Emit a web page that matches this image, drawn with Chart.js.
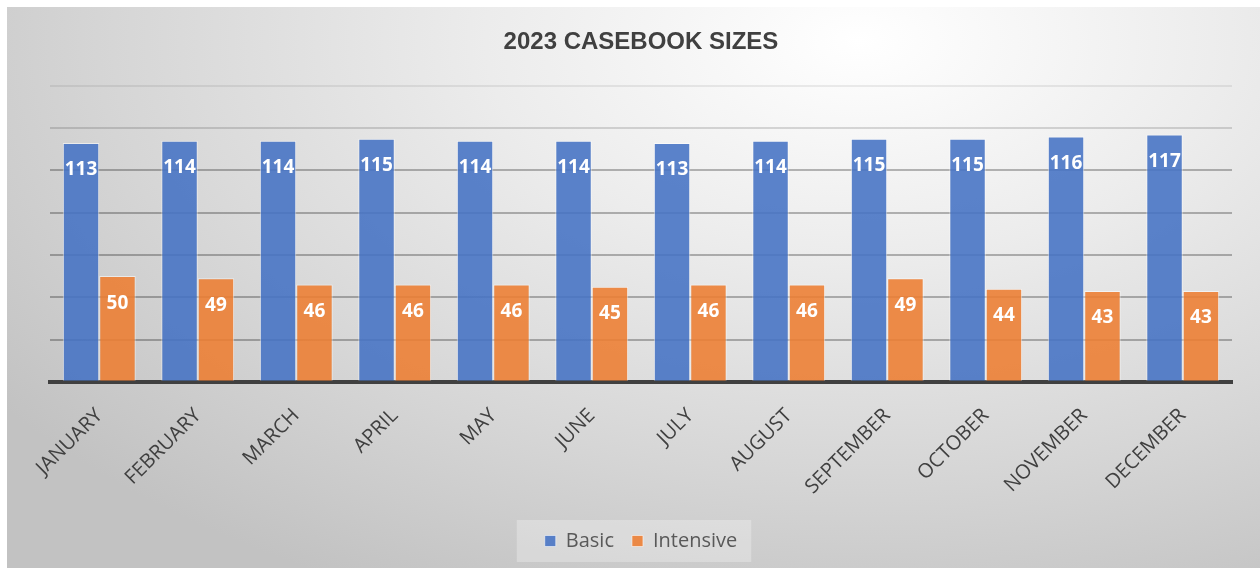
<!DOCTYPE html>
<html>
<head>
<meta charset="utf-8">
<script src="https://cdn.jsdelivr.net/npm/chart.js@4.4.0/dist/chart.umd.min.js"></script>
<style>
    html, body { margin: 0; padding: 0; background: #ffffff; }
    #frame {
        position: absolute;
        left: 7px; top: 7px;
        width: 1253px; height: 561px;
        background: radial-gradient(ellipse 85% 110% at 68% 6%, #ffffff 0%, #ececec 35%, #d6d6d6 70%, #c2c2c2 100%);
    }
    #chart { display: block; }
</style>
</head>
<body>
<div id="frame"><canvas id="chart" width="1253" height="561"></canvas></div>
<script>
// ===================================
// 2023 Casebook sizes
// ===================================

const months = ['JANUARY', 'FEBRUARY', 'MARCH', 'APRIL', 'MAY', 'JUNE', 'JULY', 'AUGUST', 'SEPTEMBER', 'OCTOBER', 'NOVEMBER', 'DECEMBER'];
const basic = [113, 114, 114, 115, 114, 114, 113, 114, 115, 115, 116, 117];
const intensive = [50, 49, 46, 46, 46, 45, 46, 46, 49, 44, 43, 43];
const seriesNames = ['Basic', 'Intensive'];
const yMax = 140;
const yStep = 20;

// Value labels inside the top of each bar
const barLabels = {
    id: 'barLabels',
    afterDatasetsDraw(chart) {
        const ctx = chart.ctx;
        ctx.save();
        ctx.fillStyle = '#ffffff';
        ctx.font = 'bold 19px "Open Sans"';
        ctx.textAlign = 'center';
        ctx.textBaseline = 'middle';
        chart.data.datasets.forEach((ds, i) => {
            chart.getDatasetMeta(i).data.forEach((bar, j) => {
                ctx.fillText(ds.data[j], bar.x, bar.y + 27);
            });
        });
        ctx.restore();
    }
};

// Light box behind the legend items
const legendBox = {
    id: 'legendBox',
    beforeDraw(chart) {
        const lg = chart.legend;
        if (!lg || !lg.legendHitBoxes || !lg.legendHitBoxes.length) return;
        const boxes = lg.legendHitBoxes;
        const left = Math.min(...boxes.map(b => b.left)) - 28;
        const right = Math.max(...boxes.map(b => b.left + b.width)) + 14;
        const midY = boxes[0].top + boxes[0].height / 2;
        const ctx = chart.ctx;
        ctx.save();
        ctx.fillStyle = 'rgba(255, 255, 255, 0.28)';
        ctx.fillRect(left, midY - 21, right - left, 42);
        ctx.restore();
    }
};

function gridColor(ctx) {
    const v = ctx.tick ? ctx.tick.value : 0;
    if (v === 0) return 'rgba(0,0,0,0)';
    if (v === 140) return 'rgba(0,0,0,0.07)';
    if (v === 120) return 'rgba(0,0,0,0.14)';
    return 'rgba(0,0,0,0.27)';
}

new Chart(document.getElementById('chart'), {
    type: 'bar',
    data: {
        labels: months,
        datasets: [{
            label: seriesNames[0],
            data: basic,
            backgroundColor: 'rgba(68, 114, 196, 0.88)',
            borderColor: 'rgba(255, 255, 255, 0.55)',
            borderWidth: 1,
            categoryPercentage: 0.74,
            barPercentage: 1.0
        }, {
            label: seriesNames[1],
            data: intensive,
            backgroundColor: 'rgba(237, 125, 49, 0.88)',
            borderColor: 'rgba(255, 255, 255, 0.55)',
            borderWidth: 1,
            categoryPercentage: 0.74,
            barPercentage: 1.0
        }]
    },
    options: {
        responsive: false,
        animation: false,
        layout: {
            padding: { left: 43, right: 28, top: 0, bottom: 7 }
        },
        plugins: {
            title: {
                display: true,
                text: '2023 CASEBOOK SIZES',
                color: '#404040',
                font: { family: '"Liberation Sans", Arial', size: 24, weight: 'bold' },
                padding: { top: 21, bottom: 29 }
            },
            legend: {
                position: 'bottom',
                labels: {
                    color: '#595959',
                    font: { family: '"Open Sans"', size: 20 },
                    boxWidth: 11,
                    boxHeight: 11,
                    padding: 18
                }
            },
            tooltip: { enabled: false }
        },
        scales: {
            x: {
                grid: { display: false },
                border: { display: true, color: '#404040', width: 4 },
                ticks: {
                    color: '#404040',
                    font: { family: '"Open Sans"', size: 20 },
                    minRotation: 45,
                    maxRotation: 45,
                    padding: 14
                }
            },
            y: {
                min: 0,
                max: yMax,
                ticks: { display: false, stepSize: yStep },
                border: { display: false },
                grid: { color: gridColor, lineWidth: 2, drawTicks: false }
            }
        }
    },
    plugins: [barLabels, legendBox]
});
</script>
</body>
</html>
